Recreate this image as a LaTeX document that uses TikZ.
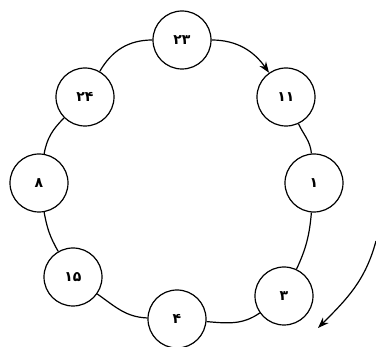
\documentclass[tikz,border=0pt]{standalone}
\usepackage{fontspec}
\newfontfamily\digitfont[Script=Arabic]{DejaVu Sans}
\usetikzlibrary{arrows.meta}

\begin{document}
\begin{tikzpicture}[
    x=1pt, y=1pt,
    num/.style={circle, draw, line width=1.2pt, minimum size=58pt, inner sep=0pt, font=\digitfont\bfseries\fontsize{14}{16}\selectfont},
    link/.style={line width=1.2pt},
    arrow/.style={-{Stealth[length=11pt,width=8pt]}, line width=1.2pt}
]
\useasboundingbox (0,0) rectangle (376,347);

\node[num] (n23) at (182,307) {۲۳};
\node[num] (n11) at (286,250) {۱۱};
\node[num] (n1)  at (314,164) {۱};
\node[num] (n3)  at (284,51)  {۳};
\node[num] (n4)  at (177,28)  {۴};
\node[num] (n15) at (73,70)   {۱۵};
\node[num] (n8)  at (39,164)  {۸};
\node[num] (n24) at (85,250)  {۲۴};

\coordinate (turnstart) at (376,106);
\coordinate (turnend)   at (318,19);

\draw[arrow] (n23) to[out=0, in=125] (n11);
\draw[link] (n11) to[out=-65, in=95] (n1);
\draw[link] (n1)  to[out=-95, in=65] (n3);
\draw[link] (n3)  to[out=215, in=-5] (n4);
\draw[link] (n4)  to[out=178, in=-35] (n15);
\draw[link] (n15) to[out=120, in=-80] (n8);
\draw[link] (n8)  to[out=80, in=225] (n24);
\draw[link] (n24) to[out=60, in=180] (n23);

\draw[arrow] (turnstart) to[out=-105, in=45] (turnend);
\end{tikzpicture}
\end{document}
